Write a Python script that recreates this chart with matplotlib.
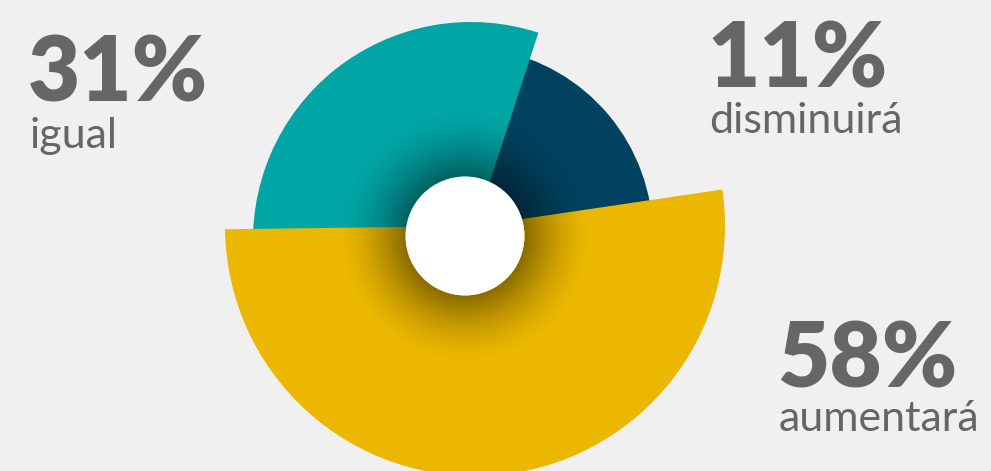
import numpy as np
import matplotlib.pyplot as plt
from matplotlib.patches import Wedge, Circle

# Datos
etiquetas = ['aumentará', 'igual', 'disminuirá']
porcentajes = [58, 31, 11]
colores = ['#ebb700', '#00a5a6', '#00425f']

# extension de cada gajo tal como se ve en el dibujo (grados) y radio
inicio = [180.75, 72.0, 0.0]
fin = [368.4, 185.0, 80.0]
radio = [250, 218, 190]

W, H = 991, 471
fig = plt.figure(figsize=(W / 100, H / 100), dpi=100)
fig.patch.set_facecolor('#f0f0f0')
ax = fig.add_axes([0, 0, 1, 1])
ax.set_xlim(0, W)
ax.set_ylim(0, H)
ax.set_aspect('equal')
ax.axis('off')

# centro de cada gajo (un poco desplazados, como en el original)
centros = [(475, H - 226), (471, H - 240), (463, H - 237)]
orden = [2, 1, 0]  # azul detras, amarillo delante
for i in orden:
    ax.add_patch(Wedge(centros[i], radio[i], inicio[i], fin[i],
                       facecolor=colores[i], edgecolor='none', zorder=2 + orden.index(i)))

# sombra radial alrededor del hueco
cx, cy, r0 = 465, H - 236, 59.5
xs = np.linspace(cx - 140, cx + 140, 400)
ys = np.linspace(cy - 140, cy + 140, 400)
X, Y = np.meshgrid(xs, ys)
R = np.hypot(X - cx, Y - cy)
t = np.clip((R - r0) / 68.0, 0, 1)
alpha = 0.42 * (1 - t) ** 1.6
alpha[R < r0] = 0
img = np.zeros((400, 400, 4))
img[..., 3] = alpha
ax.imshow(img, extent=(xs[0], xs[-1], ys[0], ys[-1]), origin='lower',
          zorder=6, interpolation='bilinear')
ax.add_patch(Circle((cx, cy), r0, facecolor='white', edgecolor='none', zorder=7))

# textos
gris = '#666666'
fuente = 'Lato'
pos = {
    'igual': (28, 102, 148),
    'disminuirá': (707, 88, 133),
    'aumentará': (777, 387, 431),
}
for et, p in zip(etiquetas, porcentajes):
    x, yb_num, yb_et = pos[et]
    ax.text(x, H - yb_num, f'{p}%', fontsize=65, fontweight='heavy', color=gris,
            family=fuente, ha='left', va='baseline', zorder=8)
    ax.text(x + 2, H - yb_et, et, fontsize=31, color=gris,
            family=fuente, ha='left', va='baseline', zorder=8)

fig.savefig('out.png', dpi=100, facecolor=fig.get_facecolor())
